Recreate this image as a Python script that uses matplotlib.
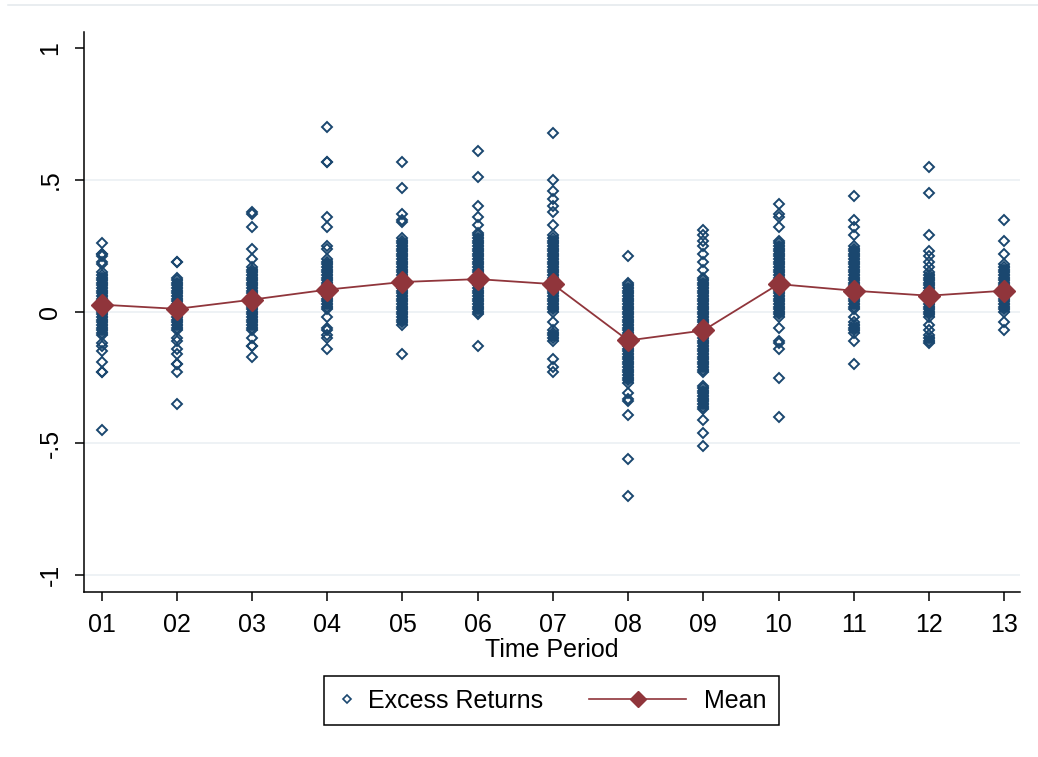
#!/usr/bin/env python3
"""Excess returns by time period with the period mean overlaid (Stata-style)."""

import numpy as np
import matplotlib
matplotlib.use("Agg")
import matplotlib.pyplot as plt
from matplotlib.lines import Line2D
from matplotlib.legend_handler import HandlerBase

plt.rcParams['font.family'] = ['Liberation Sans', 'DejaVu Sans']

NAVY   = '#1a476f'
MAROON = '#90353b'
GRID   = '#e9eff3'

# period labels and means
period_labels = ['01', '02', '03', '04', '05', '06', '07', '08', '09', '10', '11', '12', '13']
means = [0.027, 0.011, 0.046, 0.084, 0.113, 0.124, 0.105, -0.109, -0.071, 0.105, 0.080, 0.061, 0.080]

# excess returns per period, in hundredths
r01 = [26, 22, 22, 21, 19, 18, 15, 14, 13, 12, 11, 10, 9, 8, 7, 6, 5, 4, 3, 2, 1, 0,
       -1, -2, -3, -4, -5, -6, -7, -8, -9, -12, -13, -15, -19, -23, -23, -45]
r02 = [19, 19, 13, 12, 11, 10, 9, 8, 7, 6, 5, 4, 3, 2, 1, 0, -1, -2, -3, -4, -5, -6, -7,
       -10, -11, -14, -16, -20, -20, -23, -35]
r03 = [38, 37, 32, 24, 20, 17, 16, 15, 14, 13, 12, 11, 10, 9, 8, 7, 6, 5, 4, 3, 2, 1, 0,
       -1, -2, -3, -4, -5, -6, -7, -10, -13, -13, -17]
r04 = [70, 57, 57, 36, 32, 25, 24, 20, 19, 18, 17, 16, 15, 14, 13, 12, 11, 10, 9, 8, 7, 6,
       5, 4, 3, 2, 1, -2, -6, -7, -9, -10, -14]
r05 = [57, 47, 37, 35, 34, 28, 27, 26, 25, 24, 23, 22, 21, 20, 19, 18, 17, 16, 15, 14, 13,
       12, 11, 10, 9, 8, 7, 6, 5, 4, 3, 2, 1, 0, -1, -2, -3, -4, -5, -16]
r06 = [61, 51, 40, 36, 33, 30, 29, 28, 27, 26, 25, 24, 23, 22, 21, 20, 19, 18, 17, 16, 15,
       14, 13, 12, 11, 10, 9, 8, 7, 6, 5, 4, 3, 2, 1, 0, -1, -13]
r07 = [68, 50, 46, 43, 40, 38, 33, 29, 28, 27, 26, 25, 24, 23, 22, 21, 20, 19, 18, 17, 16,
       15, 14, 13, 12, 11, 10, 9, 8, 7, 6, 5, 4, 3, 2, 1, 0, -4, -7, -8, -9, -10, -11,
       -18, -21, -23]
r08 = [21, 11, 10, 9, 8, 7, 6, 5, 4, 3, 2, 1, 0, -1, -2, -3, -4, -5, -6, -7, -8, -9, -10,
       -11, -12, -13, -14, -15, -16, -17, -18, -19, -20, -21, -22, -23, -24, -25, -26, -27,
       -31, -33, -34, -39, -56, -70]
r09 = [31, 29, 27, 25, 22, 19, 16, 13, 12, 11, 10, 9, 8, 7, 6, 5, 4, 3, 2, 1, 0, -1, -2,
       -3, -4, -5, -6, -7, -8, -9, -10, -11, -12, -13, -14, -15, -16, -17, -18, -19, -20,
       -21, -22, -23, -28, -29, -30, -31, -32, -33, -34, -35, -36, -37, -41, -46, -51]
r10 = [41, 37, 36, 32, 27, 26, 25, 24, 23, 22, 21, 20, 19, 18, 17, 16, 15, 14, 13, 12, 11,
       10, 9, 8, 7, 6, 5, 4, 3, 2, 1, 0, -1, -2, -6, -11, -12, -14, -25, -40]
r11 = [44, 35, 32, 29, 25, 24, 23, 22, 21, 20, 19, 18, 17, 16, 15, 14, 13, 12, 11, 10, 9,
       8, 7, 6, 5, 4, 3, 2, 1, -2, -4, -5, -6, -7, -8, -11, -20]
r12 = [55, 45, 29, 23, 21, 19, 17, 15, 14, 13, 12, 11, 10, 9, 8, 7, 6, 5, 4, 3, 2, 1, 0,
       -1, -2, -5, -7, -9, -10, -11, -12]
r13 = [35, 27, 22, 18, 17, 16, 15, 14, 13, 12, 11, 10, 9, 8, 7, 6, 5, 4, 3, 2, 1, 0,
       -4, -7]

returns = [r01, r02, r03, r04, r05, r06, r07, r08, r09, r10, r11, r12, r13]


def dense_runs(vals, min_len=4):
    """Runs of consecutive hundredths; these overplot into a solid column."""
    s = sorted(set(vals))
    runs, start = [], s[0]
    for a, b in zip(s, s[1:] + [None]):
        if b is None or b - a > 1:
            if a - start + 1 >= min_len:
                runs.append((start, a))
            start = b
    return runs


class MeanHandler(HandlerBase):
    """Line + diamond that reaches back to the left of the handle box."""
    def create_artists(self, legend, orig_handle, xdescent, ydescent,
                       width, height, fontsize, trans):
        y = height / 2 - ydescent
        x1 = width - xdescent - 4.6
        x0 = x1 - 70
        ln = Line2D([x0, x1], [y, y], color=MAROON, lw=1.2, transform=trans)
        mk = Line2D([(x0 + x1) / 2], [y], ls='none', marker='D', ms=8.5,
                    color=MAROON, transform=trans)
        return [ln, mk]


def main():
    fig = plt.figure(figsize=(10.38, 7.57), dpi=100)
    ax = fig.add_axes([0.0809, 0.2186, 0.9017, 0.7391])

    periods = np.arange(1, len(period_labels) + 1)

    for yv in [-1, -0.5, 0, 0.5]:
        ax.axhline(yv, color=GRID, lw=1.1, zorder=0)

    for p, vals in zip(periods, returns):
        v = np.array(vals) / 100
        # heavily overplotted stretches fill in solid
        for lo, hi in dense_runs(vals):
            ax.vlines(p, lo / 100, hi / 100, color=NAVY, lw=7.6, capstyle='butt', zorder=2)
        ax.plot(np.full(len(v), p), v, ls='none', marker='D', ms=4.9,
                mfc='none', mec=NAVY, mew=1.4, zorder=2)

    ax.plot(periods, means, color=MAROON, lw=1.3, marker='D', ms=11, zorder=3)

    ax.set_xlim(0.765, 13.21)
    ax.set_ylim(-1.062, 1.062)
    ax.set_xticks(periods)
    ax.set_xticklabels(period_labels)
    ax.set_yticks([-1, -0.5, 0, 0.5, 1])
    ax.set_yticklabels(['-1', '-.5', '0', '.5', '1'], rotation=90, va='center')

    for s in ['top', 'right']:
        ax.spines[s].set_visible(False)
    for s in ['left', 'bottom']:
        ax.spines[s].set_linewidth(1.1)
    ax.tick_params(axis='both', direction='out', length=6.5, width=1.1, labelsize=18)
    ax.tick_params(axis='y', pad=9)
    ax.tick_params(axis='x', pad=9)
    ax.set_xlabel('Time Period', fontsize=18, labelpad=1)

    # faint frame line at the very top of the graph region
    fig.add_artist(Line2D([0.008, 1.0], [0.9938, 0.9938], transform=fig.transFigure,
                          color='#e3e8ec', lw=1.1))

    handles = [Line2D([], [], ls='none', marker='D', ms=3.6, mfc='none', mec=NAVY, mew=1.2),
               Line2D([], [], color=MAROON, marker='D')]
    leg = fig.legend(handles, ['Excess Returns', 'Mean'], loc='center',
                     bbox_to_anchor=(0.5313, 0.0746), ncol=2, fontsize=18,
                     handlelength=0.8, handletextpad=0.43, columnspacing=5.2,
                     borderpad=0.5, fancybox=False, framealpha=1, edgecolor='black',
                     handler_map={handles[1]: MeanHandler()})
    leg.get_frame().set_linewidth(1.1)

    fig.savefig('out.png', dpi=100)


if __name__ == '__main__':
    main()
